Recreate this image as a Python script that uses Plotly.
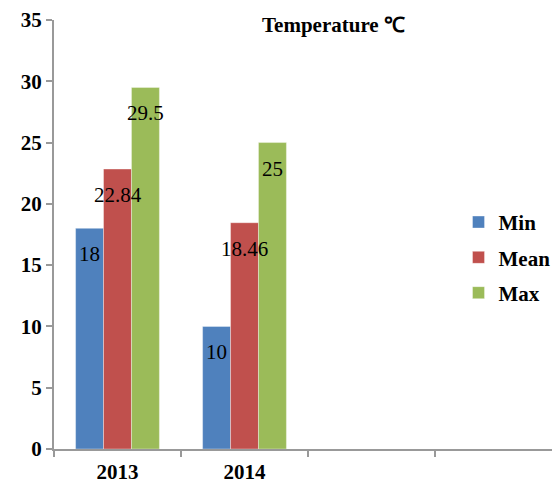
import plotly.graph_objects as go

categories = ["2013", "2014", "c3", "c4"]
tick_labels = ["2013", "2014", "", ""]
series_names = ["Min", "Mean", "Max"]
min_vals = [18, 10]
mean_vals = [22.84, 18.46]
max_vals = [29.5, 25]
label_texts = [["18", "10"], ["22.84", "18.46"], ["29.5", "25"]]
colors = ["#4F81BD", "#C0504D", "#9BBB59"]
y_ticks = [0, 5, 10, 15, 20, 25, 30, 35]
title_text = "Temperature ℃"

serif = "Times New Roman"
values = [min_vals, mean_vals, max_vals]

fig = go.Figure()
for i, (name, vals) in enumerate(zip(series_names, values)):
    fig.add_trace(go.Bar(
        x=categories[:len(vals)], y=vals, name="<b>%s</b>" % name,
        marker=dict(color=colors[i], line=dict(width=0.6, color="rgba(255,255,255,0.6)")),
        legendgroup=name,
    ))

# data labels (x given as category index)
bar_px = 28
for i, vals in enumerate(values):
    for j, v in enumerate(vals):
        fig.add_annotation(
            x=j, xref="x", y=v, yref="y", text=label_texts[i][j], showarrow=False,
            xshift=(i - 1) * bar_px, yshift=-26, yanchor="middle",
            font=dict(family=serif, size=21, color="black"),
        )

fig.add_annotation(
    x=0.543, xref="paper", y=0.988, yref="paper", yanchor="middle", xanchor="center",
    text="<b>%s</b>" % title_text, showarrow=False,
    font=dict(family=serif, size=21, color="black"),
)

axis_col = "#999999"
fig.update_layout(
    width=560, height=483,
    margin=dict(l=46, r=0, t=10, b=42),
    plot_bgcolor="white", paper_bgcolor="white",
    barmode="group", bargap=0.34, bargroupgap=0,
    font=dict(family=serif, size=21, color="black"),
    showlegend=True,
    legend=dict(
        x=0.787, y=0.576, xanchor="left", yanchor="top",
        font=dict(family=serif, size=21, color="black"),
        tracegroupgap=5, itemwidth=30,
        bgcolor="rgba(0,0,0,0)",
    ),
    xaxis=dict(
        type="category", categoryorder="array", categoryarray=categories,
        tickvals=categories, ticktext=["<b>%s</b>" % t if t else "" for t in tick_labels],
        range=[-0.5, 3.547], tickson="boundaries",
        showline=True, linecolor=axis_col, linewidth=2,
        ticks="outside", ticklen=6, tickcolor=axis_col, tickwidth=1.5,
        showgrid=False, zeroline=False, ticklabelstandoff=3,
        tickfont=dict(family=serif, size=21, color="black"),
    ),
    yaxis=dict(
        range=[0, 35], tickvals=y_ticks,
        ticktext=["<b>%d</b>" % v for v in y_ticks],
        showline=True, linecolor=axis_col, linewidth=2,
        ticks="outside", ticklen=6, tickcolor=axis_col, tickwidth=1.5,
        showgrid=False, zeroline=False, ticklabeloverflow="allow",
        tickfont=dict(family=serif, size=21, color="black"),
    ),
)

fig.write_html("out.html")
